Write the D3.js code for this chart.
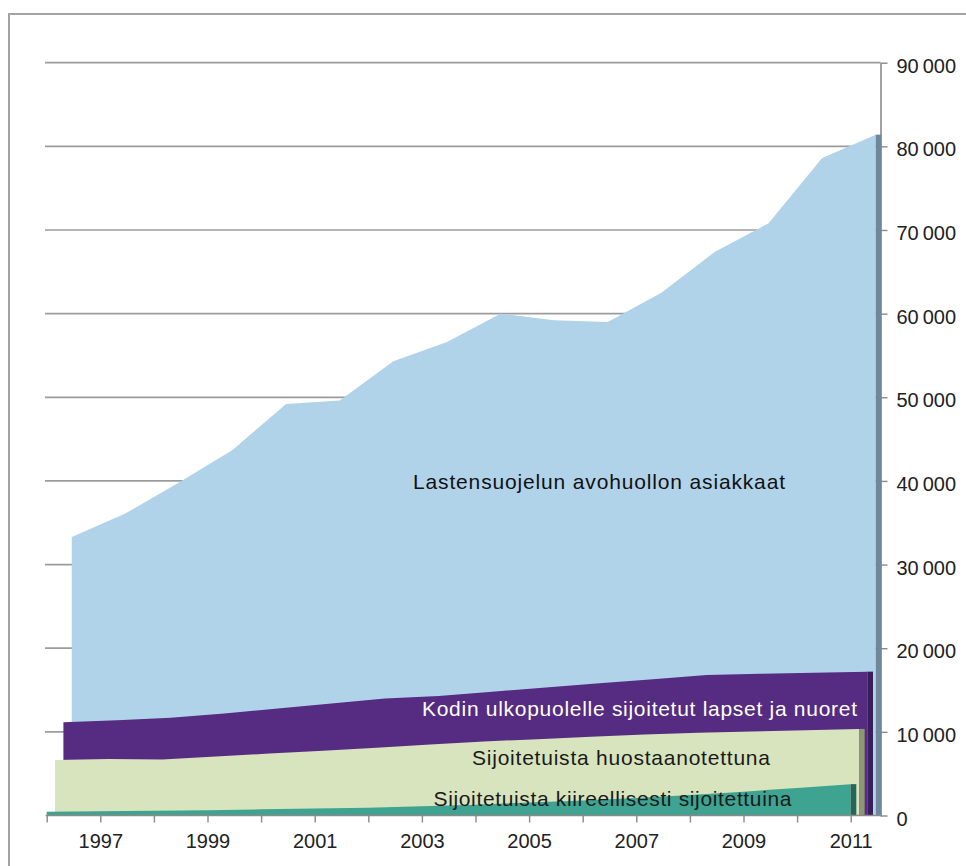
<!DOCTYPE html>
<html>
<head>
<meta charset="utf-8">
<script src="https://cdn.jsdelivr.net/npm/d3@7"></script>
<style>
  html, body { margin: 0; padding: 0; background: #fff; }
  svg { display: block; }
  text { font-family: "Liberation Sans", Arial, sans-serif; }
</style>
</head>
<body>
<svg id="chart" width="966" height="866"></svg>
<script>
// ---- Data ----
const years = [1996, 1997, 1998, 1999, 2000, 2001, 2002, 2003, 2004, 2005, 2006, 2007, 2008, 2009, 2010, 2011];
const yearTickLabels = [1997, 1999, 2001, 2003, 2005, 2007, 2009, 2011];
const yTicks = [0, 10000, 20000, 30000, 40000, 50000, 60000, 70000, 80000, 90000];

const seriesNames = [
  "Lastensuojelun avohuollon asiakkaat",
  "Kodin ulkopuolelle sijoitetut lapset ja nuoret",
  "Sijoitetuista huostaanotettuna",
  "Sijoitetuista kiireellisesti sijoitettuina"
];
const avohuolto   = [33300, 36100, 39800, 43700, 49200, 49600, 54300, 56600, 60000, 59200, 59000, 62500, 67400, 70800, 78600, 81400];
const sijoitetut  = [11150, 11400, 11700, 12200, 12800, 13400, 14000, 14300, 14800, 15300, 15800, 16300, 16800, 16950, 17080, 17200];
const huostassa   = [6650, 6750, 6700, 7050, 7400, 7750, 8100, 8500, 8850, 9130, 9400, 9680, 9900, 10050, 10200, 10350];
const kiireelliset = [450, 500, 560, 640, 740, 830, 930, 1100, 1300, 1550, 1800, 2100, 2450, 2850, 3300, 3750];

const fillColors = ["#b1d3ea", "#552c81", "#d7e4bd", "#3ea391"];
const sideColors = ["#6e889a", "#381f5c", "#8e9676", "#26655a"];
const labelColors = ["#111", "#fff", "#1a1a1a", "#1a1a1a"];

// ---- Layout ----
const svg = d3.select("#chart");
const x = d3.scaleLinear().domain([1996, 2011]).range([46.7, 850.7]);
const y = d3.scaleLinear().domain([0, 90000]).range([815.5, 62.7]);
const depthStep = 8.35;   // horizontal shift per series depth
const sideWidth = 5.6;    // visible right side face
const wallRight = 880.5;
const fmt = d3.formatLocale({ decimal: ",", thousands: "\u2009", grouping: [3], currency: ["", " €"] }).format(",d");

// frame
svg.append("path")
  .attr("d", "M9,866 L9,14 L966,14")
  .attr("fill", "none").attr("stroke", "#a3a3a3").attr("stroke-width", 2);

// gridlines (back wall)
svg.append("g").selectAll("line")
  .data(yTicks.filter(d => d > 0))
  .join("line")
  .attr("x1", 45).attr("x2", wallRight)
  .attr("y1", d => y(d)).attr("y2", d => y(d))
  .attr("stroke", "#9c9c9c").attr("stroke-width", 1.7);

// right value axis
const yAxis = svg.append("g")
  .attr("transform", `translate(${wallRight},0)`)
  .call(d3.axisRight(y).tickValues(yTicks).tickSize(7).tickSizeOuter(0).tickPadding(9).tickFormat(fmt));
yAxis.select(".domain").attr("stroke", "#8a8a8a").attr("stroke-width", 1.6);
yAxis.selectAll(".tick line").attr("stroke", "#8a8a8a").attr("stroke-width", 1.4);
yAxis.selectAll(".tick text")
  .attr("font-size", 20).attr("fill", "#222").attr("dy", "0.48em")
  .style("font-family", '"Liberation Sans", Arial, sans-serif');

// series back-to-front
const seriesData = [avohuolto, sijoitetut, huostassa, kiireelliset];
seriesData.forEach((vals, i) => {
  const depth = 3 - i;
  const dx = depth * depthStep;
  const pts = years.map((yr, k) => ({ yr, v: vals[k] }));
  const area = d3.area()
    .x(d => x(d.yr) + dx)
    .y0(y(0))
    .y1(d => y(d.v));
  svg.append("path")
    .datum(pts)
    .attr("d", area)
    .attr("fill", fillColors[i]);
  const last = pts[pts.length - 1];
  svg.append("rect")
    .attr("x", x(last.yr) + dx)
    .attr("y", y(last.v))
    .attr("width", sideWidth)
    .attr("height", y(0) - y(last.v))
    .attr("fill", sideColors[i]);
});

// bottom category axis
svg.append("line")
  .attr("x1", x(1996) - 1).attr("x2", wallRight + 1)
  .attr("y1", y(0)).attr("y2", y(0))
  .attr("stroke", "#8a8a8a").attr("stroke-width", 1.6);
const xAxis = svg.append("g")
  .attr("transform", `translate(0,${y(0)})`)
  .call(d3.axisBottom(x).tickValues(years).tickSize(7).tickSizeOuter(0)
    .tickFormat(d => yearTickLabels.includes(d) ? String(d) : ""));
xAxis.select(".domain").remove();
xAxis.selectAll(".tick line").attr("stroke", "#8a8a8a").attr("stroke-width", 1.4);
xAxis.selectAll(".tick text")
  .attr("font-size", 20).attr("fill", "#222")
  .attr("y", 32.5).attr("dy", null)
  .style("font-family", '"Liberation Sans", Arial, sans-serif');

// series labels inside areas
const labelPos = [
  { cx: 599, base: 489, w: 372 },
  { cx: 639.5, base: 716, w: 435 },
  { cx: 621, base: 765, w: 298 },
  { cx: 612.5, base: 806, w: 358 }
];
seriesNames.forEach((name, i) => {
  svg.append("text")
    .attr("x", labelPos[i].cx - labelPos[i].w / 2)
    .attr("y", labelPos[i].base)
    .attr("font-size", 21)
    .attr("fill", labelColors[i])
    .attr("textLength", labelPos[i].w)
    .attr("lengthAdjust", "spacing")
    .text(name);
});
</script>
</body>
</html>
